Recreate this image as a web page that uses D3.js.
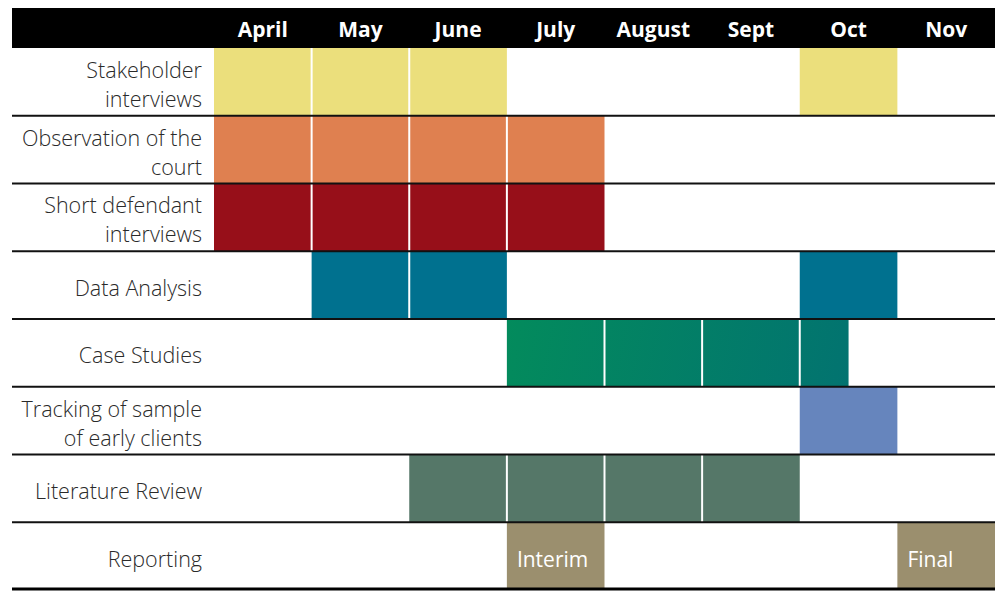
<!DOCTYPE html>
<html><head><meta charset="utf-8">
<script src="https://cdn.jsdelivr.net/npm/d3@7"></script>
<style>
html,body{margin:0;padding:0;background:#fff;}
svg{display:block;}
</style></head>
<body>
<script>
const months = ["April","May","June","July","August","Sept","Oct","Nov"];
const tasks = [
  ["Stakeholder","interviews"],
  ["Observation of the","court"],
  ["Short defendant","interviews"],
  ["Data Analysis"],
  ["Case Studies"],
  ["Tracking of sample","of early clients"],
  ["Literature Review"],
  ["Reporting"]
];
// bars: task index, start month index, end month index, colour, optional label
const bars = [
  {task:0, start:0, end:3, color:"#ebdf7c"},
  {task:0, start:6, end:7, color:"#ebdf7c"},
  {task:1, start:0, end:4, color:"#df8050"},
  {task:2, start:0, end:4, color:"#970f19"},
  {task:3, start:1, end:3, color:"#00718f"},
  {task:3, start:6, end:7, color:"#00718f"},
  {task:4, start:3, end:6.5, color:"url(#caseGrad)"},
  {task:5, start:6, end:7, color:"#6685bd"},
  {task:6, start:2, end:6, color:"#557768"},
  {task:7, start:3, end:4, color:"#9b8f6e", label:"Interim"},
  {task:7, start:7, end:8, color:"#9b8f6e", label:"Final"}
];

const W = 995, H = 591;
const svg = d3.select("body").append("svg").attr("width", W).attr("height", H);
const x = d3.scaleLinear().domain([0, 8]).range([214, 995]);
const y = d3.scaleBand().domain(d3.range(tasks.length)).range([48, 590]);

const defs = svg.append("defs");
const g = defs.append("linearGradient").attr("id","caseGrad")
  .attr("gradientUnits","userSpaceOnUse")
  .attr("x1", x(3)).attr("y1", y(4)).attr("x2", x(6.5)).attr("y2", y(4)+y.bandwidth());
g.append("stop").attr("offset","0%").attr("stop-color","#038b5c");
g.append("stop").attr("offset","100%").attr("stop-color","#027370");

// header
svg.append("rect").attr("x",12).attr("y",8).attr("width",W-12).attr("height",40).attr("fill","#000");
svg.selectAll("text.month").data(months).join("text")
  .attr("class","month")
  .attr("x",(d,i)=>(x(i)+x(i+1))/2)
  .attr("y",37)
  .attr("text-anchor","middle")
  .attr("fill","#fff")
  .attr("font-family","'Open Sans', 'Noto Sans', sans-serif")
  .attr("font-weight","bold")
  .attr("font-size",21)
  .text(d=>d);

// bars split per month segment
const segs = [];
bars.forEach(b=>{
  for (let m = Math.floor(b.start); m < b.end; m++) {
    const s = Math.max(m, b.start), e = Math.min(m+1, b.end);
    segs.push({task:b.task, s, e, color:b.color, first: s===b.start, last: e===b.end});
  }
});
svg.selectAll("rect.seg").data(segs).join("rect")
  .attr("class","seg")
  .attr("x",d=>x(d.s) + (d.first?0:1))
  .attr("y",d=>y(d.task))
  .attr("width",d=>x(d.e)-x(d.s) - (d.first?0:1) - (d.last?0:1))
  .attr("height",y.bandwidth())
  .attr("fill",d=>d.color);

// bar labels
svg.selectAll("text.barlabel").data(bars.filter(b=>b.label)).join("text")
  .attr("class","barlabel")
  .attr("x",d=>x(d.start)+10)
  .attr("y",d=>y(d.task)+y.bandwidth()/2+11)
  .attr("fill","#fff")
  .attr("font-family","'Open Sans', 'Noto Sans', sans-serif")
  .attr("font-weight",400)
  .attr("font-size",21)
  .text(d=>d.label);

// row lines
const lineYs = d3.range(1, tasks.length).map(i=>y(i));
svg.selectAll("line.row").data(lineYs).join("line")
  .attr("class","row")
  .attr("x1",12).attr("x2",W)
  .attr("y1",d=>d).attr("y2",d=>d)
  .attr("stroke","#111").attr("stroke-width",2);
svg.append("line").attr("x1",12).attr("x2",W).attr("y1",589).attr("y2",589)
  .attr("stroke","#000").attr("stroke-width",3);

// task labels
const lbl = svg.selectAll("text.task").data(tasks).join("text")
  .attr("class","task")
  .attr("text-anchor","end")
  .attr("fill","#2a2a2a")
  .attr("font-family","'Open Sans', 'Noto Sans', sans-serif")
  .attr("font-weight",300)
  .attr("font-size",21.5);
lbl.each(function(d,i){
  const t = d3.select(this);
  const cy = y(i) + y.bandwidth()/2;
  const lh = 29;
  const y0 = cy - (d.length-1)*lh/2 + 10.5;
  d.forEach((line,j)=>{
    t.append("tspan").attr("x",202).attr("y",y0 + j*lh).text(line);
  });
});
</script>
</body></html>
